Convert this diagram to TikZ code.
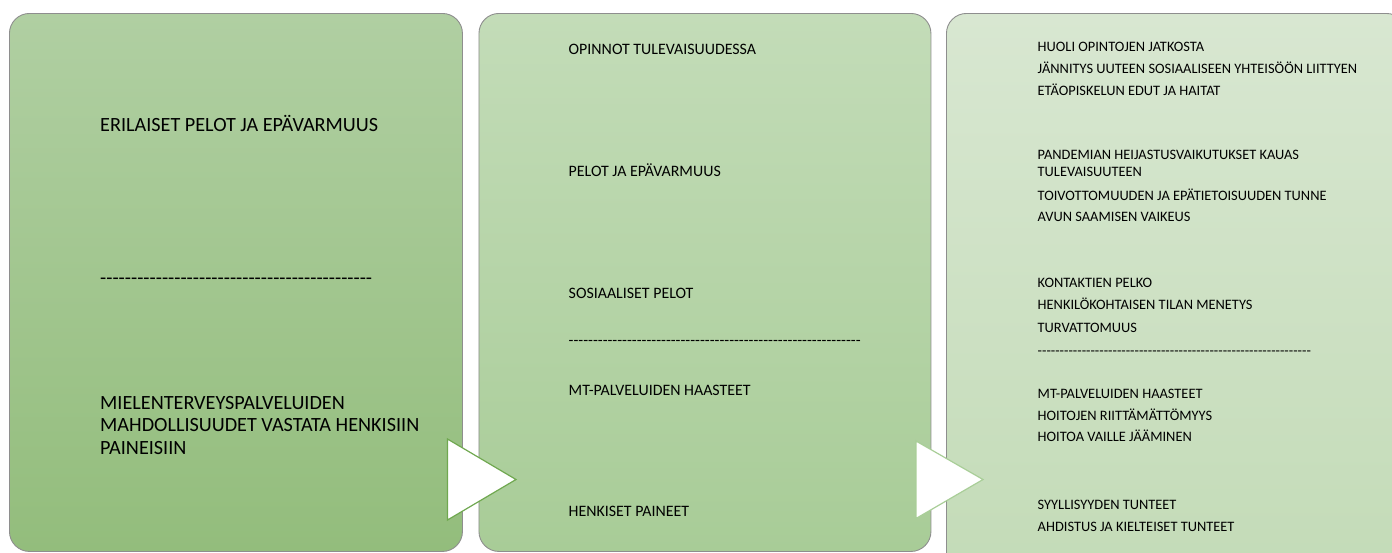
\documentclass[tikz,border=0pt]{standalone}
\usepackage{fontspec}
\setmainfont{Carlito}
\definecolor{leftTop}{HTML}{B0CFA2}
\definecolor{leftBot}{HTML}{93BD7C}
\definecolor{midTop}{HTML}{C3DCB8}
\definecolor{midBot}{HTML}{A8CC97}
\definecolor{rightTop}{HTML}{D8E7D1}
\definecolor{rightBot}{HTML}{C3DBB7}
\definecolor{edgeGray}{HTML}{8E8E8E}
\definecolor{triDark}{HTML}{70A850}
\definecolor{triLight}{HTML}{A9CE98}
\newcommand\hyphenrow[1]{\foreach \k in {1,...,#1}{-\kern0pt}}
\tikzset{
  panel/.style={draw=edgeGray, line width=0.9pt, rounded corners=20pt, anchor=north west, inner sep=0pt},
  bigtxt/.style={anchor=base west, inner sep=0pt, text=black, font=\fontsize{20.2}{24}\selectfont},
  midtxt/.style={anchor=base west, inner sep=0pt, text=black, font=\fontsize{15.9}{19}\selectfont},
  smalltxt/.style={anchor=base west, inner sep=0pt, text=black, font=\fontsize{14.4}{17}\selectfont},
  pointer/.style={fill=white, line width=1.2pt, line join=miter}
}
\begin{document}
\begin{tikzpicture}[x=1pt,y=-1pt]
  \useasboundingbox (0,0) rectangle (1392,552);
  \clip (0,0) rectangle (1392,552);

  % the three panels
  \node[panel, top color=leftTop, bottom color=leftBot, minimum width=453pt, minimum height=538pt] (fears) at (9,13) {};
  \node[panel, top color=midTop, bottom color=midBot, minimum width=452pt, minimum height=538pt] (themes) at (478.5,13) {};
  \node[panel, top color=rightTop, bottom color=rightBot, minimum width=460pt, minimum height=570pt] (details) at (946,13) {};

  % pointers between panels
  \draw[pointer, draw=triDark] (447.5,439) -- (447.5,520) -- (516,479.5) -- cycle;
  \draw[pointer, draw=triLight] (916,441) -- (916,518.5) -- (983,479.5) -- cycle;

  % left panel
  \node[bigtxt] (mainA) at (100,131.5) {ERILAISET PELOT JA EPÄVARMUUS};
  \node[bigtxt] (splitA) at (100,284.5) {\hyphenrow{44}};
  \node[bigtxt] (mainB1) at (100,409) {MIELENTERVEYSPALVELUIDEN};
  \node[bigtxt] (mainB2) at (100,431.5) {MAHDOLLISUUDET VASTATA HENKISIIN};
  \node[bigtxt] (mainB3) at (100,454) {PAINEISIIN};

  % middle panel
  \node[midtxt] (study) at (568.5,54.5) {OPINNOT TULEVAISUUDESSA};
  \node[midtxt] (unsure) at (568.5,176) {PELOT JA EPÄVARMUUS};
  \node[midtxt] (social) at (568.5,298.5) {SOSIAALISET PELOT};
  \node[midtxt] (splitB) at (568.5,345) {\hyphenrow{60}};
  \node[midtxt] (mtserv) at (568.5,395.5) {MT-PALVELUIDEN HAASTEET};
  \node[midtxt] (press) at (568.5,516.5) {HENKISET PAINEET};

  % right panel
  \node[smalltxt] (r1) at (1037.5,51.5) {HUOLI OPINTOJEN JATKOSTA};
  \node[smalltxt] (r2) at (1037.5,73.5) {JÄNNITYS UUTEEN SOSIAALISEEN YHTEISÖÖN LIITTYEN};
  \node[smalltxt] (r3) at (1037.5,95) {ETÄOPISKELUN EDUT JA HAITAT};
  \node[smalltxt] (r4) at (1037.5,159.5) {PANDEMIAN HEIJASTUSVAIKUTUKSET KAUAS};
  \node[smalltxt] (r4b) at (1037.5,176.5) {TULEVAISUUTEEN};
  \node[smalltxt] (r5) at (1037.5,200) {TOIVOTTOMUUDEN JA EPÄTIETOISUUDEN TUNNE};
  \node[smalltxt] (r6) at (1037.5,221) {AVUN SAAMISEN VAIKEUS};
  \node[smalltxt] (r7) at (1037.5,287.5) {KONTAKTIEN PELKO};
  \node[smalltxt] (r8) at (1037.5,309) {HENKILÖKOHTAISEN TILAN MENETYS};
  \node[smalltxt] (r9) at (1037.5,332.5) {TURVATTOMUUS};
  \node[smalltxt] (splitC) at (1037.5,355) {\hyphenrow{62}};
  \node[smalltxt] (r10) at (1037.5,398.5) {MT-PALVELUIDEN HAASTEET};
  \node[smalltxt] (r11) at (1037.5,420.5) {HOITOJEN RIITTÄMÄTTÖMYYS};
  \node[smalltxt] (r12) at (1037.5,441.5) {HOITOA VAILLE JÄÄMINEN};
  \node[smalltxt] (r13) at (1037.5,509.5) {SYYLLISYYDEN TUNTEET};
  \node[smalltxt] (r14) at (1037.5,531) {AHDISTUS JA KIELTEISET TUNTEET};
\end{tikzpicture}
\end{document}
